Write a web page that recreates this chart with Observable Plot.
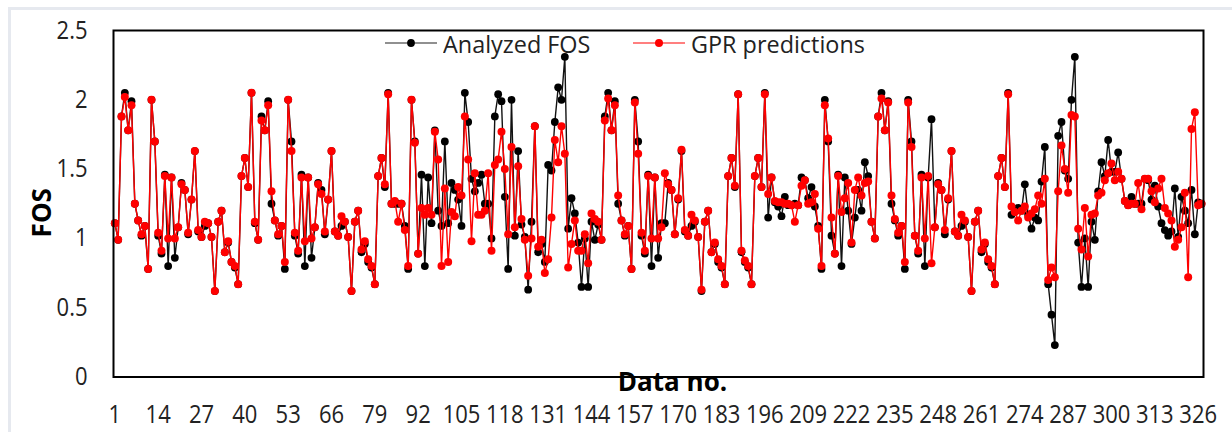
<!DOCTYPE html>
<html>
<head>
<meta charset="utf-8">
<script src="https://cdn.jsdelivr.net/npm/d3@7"></script>
<script src="https://cdn.jsdelivr.net/npm/@observablehq/plot@0.6"></script>
<style>
html,body{margin:0;padding:0;background:#fff;}
#wrap{position:relative;width:1232px;height:432px;overflow:hidden;font-family:"Open Sans",sans-serif;}
#edge{position:absolute;left:8px;top:7px;right:-5px;bottom:-5px;border:3px solid #e6e9ef;box-sizing:border-box;}
#chart{position:absolute;left:0;top:0;}
#chart svg{display:block;background:transparent;}
.leg{position:absolute;top:28px;height:30px;display:flex;align-items:center;font-size:24px;color:#222;white-space:nowrap;transform-origin:left center;}
.leg svg{margin-right:6px;}
.leg span{display:inline-block;transform:scaleX(0.975);transform-origin:left center;}
</style>
</head>
<body>
<div id="wrap"><div id="edge"></div><div id="chart"></div>
<div class="leg" style="left:385px"><svg width="52" height="14"><line x1="0" x2="52" y1="7" y2="7" stroke="#222" stroke-width="1.2"/><circle cx="26" cy="7" r="3.9" fill="#000"/></svg><span>Analyzed FOS</span></div>
<div class="leg" style="left:633px"><svg width="52" height="14"><line x1="0" x2="52" y1="7" y2="7" stroke="#f00" stroke-width="1.2"/><circle cx="26" cy="7" r="4" fill="#f00"/></svg><span>GPR predictions</span></div>
</div>
<script>
const analyzedFOS = [
1.11,0.99,1.88,2.05,1.78,1.99,1.25,1.13,1.02,1.09,0.78,2.00,1.70,1.02,0.89,1.46,0.80,1.44,0.86,1.08,
1.40,1.35,1.03,1.28,1.63,1.05,1.01,1.09,1.11,1.01,0.62,1.12,1.20,0.90,0.97,0.83,0.79,0.67,1.45,1.58,
1.37,2.05,1.11,0.99,1.88,1.78,1.99,1.25,1.13,1.02,1.09,0.78,2.00,1.70,1.02,0.89,1.46,0.80,1.44,0.86,
1.08,1.40,1.35,1.03,1.28,1.63,1.05,1.02,1.09,1.12,1.01,0.62,1.12,1.20,0.90,0.96,0.83,0.79,0.67,1.45,
1.58,1.37,2.05,1.25,1.25,1.25,1.25,1.09,0.78,2.00,1.70,0.89,1.46,0.80,1.44,1.11,1.78,1.20,1.09,1.70,
1.11,1.40,1.35,1.28,1.09,2.05,1.84,1.43,1.34,1.40,1.46,1.25,1.25,1.00,1.88,2.04,1.99,1.30,0.78,2.00,
1.02,1.63,1.10,1.01,0.63,1.12,1.81,0.90,0.96,0.83,1.53,1.49,1.84,2.09,2.00,2.31,1.07,1.29,1.18,0.97,
0.65,1.00,0.65,1.12,0.99,1.10,0.99,1.88,2.05,1.78,1.99,1.25,1.13,1.02,1.09,0.78,2.00,1.70,1.02,0.89,
1.46,0.80,1.44,0.86,1.11,1.11,1.40,1.35,1.03,1.28,1.63,1.05,1.02,1.09,1.12,1.01,0.62,1.12,1.20,0.90,
0.96,0.83,0.79,0.67,1.45,1.58,1.37,2.04,0.90,0.83,0.79,0.67,1.45,1.58,1.37,2.05,1.15,1.44,1.26,1.23,
1.16,1.30,1.24,1.24,1.25,1.24,1.44,1.42,1.29,1.37,1.23,1.09,0.78,2.00,1.70,1.02,0.89,1.46,0.80,1.44,
1.20,0.96,1.15,1.35,1.20,1.55,1.45,1.12,1.00,1.88,2.05,1.78,1.99,1.25,1.13,1.02,1.09,0.78,2.00,1.70,
1.02,0.89,1.46,0.80,1.44,1.86,1.08,1.40,1.35,1.03,1.28,1.63,1.05,1.02,1.09,1.12,1.01,0.62,1.12,1.20,
0.90,0.96,0.83,0.79,0.67,1.45,1.58,1.37,2.05,1.17,1.19,1.22,1.20,1.39,1.17,1.07,1.15,1.13,1.41,1.66,
0.67,0.45,0.23,1.74,1.84,1.49,1.43,2.00,2.31,0.97,0.65,1.00,0.65,1.12,0.99,1.34,1.55,1.45,1.71,1.48,
1.48,1.62,1.43,1.27,1.24,1.30,1.25,1.25,1.25,1.43,1.42,1.28,1.38,1.23,1.11,1.06,1.02,1.05,1.36,1.01,
1.30,1.20,1.11,1.35,1.03,1.26,1.25];
const gprPredictions = [
1.11,0.99,1.88,2.02,1.78,1.96,1.25,1.13,1.03,1.09,0.78,2.00,1.70,1.04,0.91,1.45,1.00,1.44,1.00,1.08,
1.39,1.35,1.04,1.28,1.63,1.06,1.01,1.12,1.11,1.01,0.62,1.12,1.20,0.90,0.98,0.83,0.80,0.67,1.45,1.58,
1.37,2.05,1.12,0.99,1.85,1.78,1.96,1.34,1.13,1.03,1.09,0.83,2.00,1.63,1.04,0.91,1.44,0.98,1.44,1.00,
1.08,1.39,1.32,1.05,1.28,1.63,1.05,1.02,1.16,1.12,1.01,0.62,1.12,1.20,0.92,0.98,0.85,0.80,0.67,1.45,
1.58,1.39,2.04,1.25,1.27,1.12,1.25,1.06,0.80,2.00,1.69,0.89,1.22,1.17,1.22,1.17,1.77,1.57,0.80,1.36,
0.83,1.19,1.16,1.37,1.31,1.88,1.57,0.98,1.47,1.17,1.17,1.20,1.47,0.91,1.53,1.57,1.77,1.50,1.03,1.66,
1.08,1.52,1.14,0.99,0.73,1.00,1.81,0.94,0.99,0.75,0.85,1.15,1.71,1.55,1.81,1.61,0.79,0.96,1.13,0.91,
0.91,1.03,0.82,1.18,1.14,1.12,0.99,1.85,2.01,1.78,1.96,1.31,1.13,1.03,1.09,0.78,1.98,1.61,1.04,0.91,
1.45,1.00,1.44,1.00,1.08,1.47,1.39,1.35,1.03,1.29,1.64,1.06,1.02,1.17,1.13,1.01,0.63,1.12,1.20,0.90,
0.97,0.85,0.80,0.67,1.45,1.58,1.38,2.04,0.91,0.84,0.80,0.67,1.45,1.58,1.37,2.04,1.32,1.44,1.27,1.26,
1.26,1.25,1.25,1.24,1.12,1.24,1.38,1.42,1.25,1.26,1.32,1.07,0.80,1.96,1.72,1.15,0.89,1.45,1.19,1.29,
1.40,0.97,1.35,1.44,1.31,1.40,1.41,1.12,1.00,1.88,2.01,1.78,1.98,1.31,1.14,1.04,1.09,0.83,1.98,1.66,
1.02,0.91,1.44,1.00,1.45,0.82,1.08,1.39,1.35,1.06,1.29,1.63,1.05,1.02,1.17,1.13,1.01,0.62,1.12,1.20,
0.92,0.97,0.85,0.80,0.67,1.45,1.58,1.37,2.04,1.23,1.19,1.13,1.20,1.23,1.15,1.18,1.21,1.31,1.25,1.43,
0.70,0.79,0.72,1.34,1.67,1.50,1.33,1.89,1.88,1.07,0.92,1.22,0.87,1.17,1.18,1.31,1.33,1.42,1.47,1.54,
1.42,1.48,1.43,1.27,1.24,1.25,1.25,1.40,1.21,1.43,1.43,1.34,1.26,1.36,1.43,1.22,1.18,1.13,0.94,0.99,
1.08,1.33,0.72,1.79,1.91,1.24,1.25];
const xTickValues = [1,14,27,40,53,66,79,92,105,118,131,144,157,170,183,196,209,222,235,248,261,274,287,300,313,326];
const yTickValues = [0,0.5,1,1.5,2,2.5];

const rows = (vals) => vals.map((v, i) => ({no: i + 1, fos: v}));
const black = rows(analyzedFOS), red = rows(gprPredictions);

const plot = Plot.plot({
  width: 1232, height: 432,
  marginLeft: 113, marginRight: 29, marginTop: 30, marginBottom: 55.5,
  style: {background: "transparent", fontFamily: '"Open Sans",sans-serif', overflow: "visible"},
  x: {domain: [0.6, 327.6]},
  y: {domain: [0, 2.5]},
  marks: [
    Plot.line(black, {x: "no", y: "fos", stroke: "#111", strokeWidth: 1.4}),
    Plot.dot(black, {x: "no", y: "fos", r: 3.9, fill: "#000"}),
    Plot.line(red, {x: "no", y: "fos", stroke: "#f00", strokeWidth: 1.4}),
    Plot.dot(red, {x: "no", y: "fos", r: 4, fill: "#f00"}),
    Plot.frame({stroke: "#000", strokeWidth: 2}),
    Plot.axisX({ticks: xTickValues, tickSize: 0, tickPadding: 28, tickFormat: d => String(d), fontSize: 25, fill: "#222", label: null}),
    Plot.axisY({ticks: yTickValues, tickSize: 0, tickPadding: 26, tickFormat: d => String(d), fontSize: 25, fill: "#222", label: null}),
    Plot.text(["Data no."], {frameAnchor: "bottom", dx: 14, dy: 14, fontSize: 26, fontWeight: "bold", fill: "#000"}),
    Plot.text(["FOS"], {frameAnchor: "left", textAnchor: "middle", rotate: -90, dx: -71, dy: 9, fontSize: 26, fontWeight: "bold", fill: "#000"})
  ]
});
// original glyphs are horizontally condensed
d3.select(plot).selectAll("g[aria-label='x-axis tick label'] text, g[aria-label='y-axis tick label'] text").each(function(){
  const t = d3.select(this);
  t.attr("transform", (t.attr("transform") || "") + " scale(0.88,1)");
});
document.getElementById("chart").appendChild(plot);
</script>
</body>
</html>
